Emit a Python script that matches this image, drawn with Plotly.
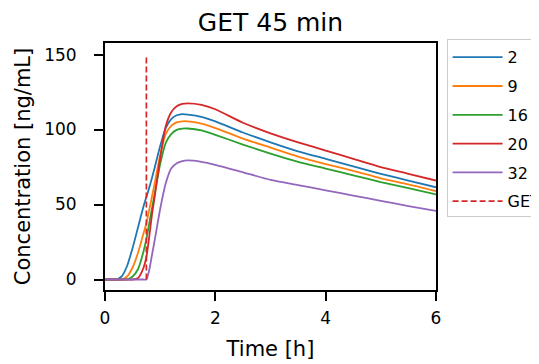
import plotly.graph_objects as go

# ---- data ----
time_h = [0, 0.2, 0.3, 0.4, 0.5, 0.6, 0.7, 0.75, 0.8, 0.85, 0.9, 1.0, 1.1, 1.2, 1.3, 1.4, 1.5,
          1.75, 2.0, 2.5, 3.0, 3.5, 4.0, 4.5, 5.0, 5.5, 6.0]

conc_2 = [0, 0, 2, 9, 21, 35, 49, 55, 61, 67.5, 74.5, 89, 101, 107, 109.5, 110.3, 110,
          108.5, 105.5, 98, 91.5, 85.5, 80.5, 75.5, 70.5, 66, 61.5]
conc_9 = [0, 0, 0, 2, 8, 18, 31, 37.5, 46, 55, 64, 83, 97, 102.5, 104.8, 105.5, 105.5,
          104, 101, 94, 88, 82, 77, 72.5, 67.5, 63.5, 59]
conc_16 = [0, 0, 0, 0, 2, 7, 19, 27, 37, 47, 57, 77, 91, 97, 99.8, 100.6, 100.7,
           99.5, 96.5, 90, 84, 78.5, 74, 69.5, 65, 61, 56.8]
conc_20 = [0, 0, 0, 0, 0, 1, 8, 15, 28, 43, 55, 81, 102, 111.5, 115.5, 117.1, 117.5,
           116.5, 113.5, 104.5, 97.5, 91.5, 86, 80.5, 75, 70.5, 66]
conc_32 = [0, 0, 0, 0, 0, 0, 0, 0, 6, 16, 26, 47, 64, 74, 77.5, 79, 79.4,
           78.5, 76.5, 71.5, 66.5, 63, 59.5, 56, 52.5, 49, 45.7]

series_names = ["2", "9", "16", "20", "32"]
series_values = [conc_2, conc_9, conc_16, conc_20, conc_32]
series_colors = ["#1f77b4", "#ff7f0e", "#2ca02c", "#d62728", "#9467bd"]

get_name = "GET"
get_time = [0.75, 0.75]
get_conc = [0, 150]

x_ticks = [0, 2, 4, 6]
y_ticks = [0, 50, 100, 150]

# ---- figure ----
fig = go.Figure()
for name, vals, col in zip(series_names, series_values, series_colors):
    fig.add_trace(go.Scatter(
        x=time_h, y=vals, mode="lines", name=name, legendgroup=name,
        line=dict(color=col, width=1.8, shape="spline", smoothing=0.6),
    ))
fig.add_trace(go.Scatter(
    x=get_time, y=get_conc, mode="lines", name=get_name, legendgroup="get",
    line=dict(color="#d62728", width=1.7, dash="6px,3px"),
))

axis_common = dict(
    showline=True, linecolor="black", linewidth=1.8, mirror=True,
    ticks="outside", ticklen=9, tickwidth=1.8, tickcolor="black",
    showgrid=False, zeroline=False,
    tickfont=dict(size=17, color="black"),
)

# the page body adds an 8px offset; the figure is sized so the plot lands in place
fig.update_layout(
    width=531, height=356,
    margin=dict(l=97, r=103, t=35, b=74, autoexpand=False),
    paper_bgcolor="white", plot_bgcolor="white",
    font=dict(family="DejaVu Sans", color="black"),
    title=dict(text="GET 45 min", x=0.5, xref="paper", xanchor="center",
               y=1 - 14.5 / 356, yref="container", yanchor="middle",
               font=dict(size=25, color="black")),
    showlegend=True,
    legend=dict(x=1.032, y=1.015, xanchor="left", yanchor="top",
                bgcolor="white", bordercolor="#cccccc", borderwidth=1,
                font=dict(size=16, color="black"), tracegroupgap=5,
                itemwidth=50),
    xaxis=dict(range=[0, 6], tickvals=x_ticks, ticklabelstandoff=3,
               title=dict(text="Time [h]", font=dict(size=21), standoff=14),
               **axis_common),
    yaxis=dict(range=[-7, 157.7], tickvals=y_ticks, ticklabelstandoff=14,
               title=dict(text="Concentration [ng/mL]", font=dict(size=21), standoff=8),
               **axis_common),
)

fig.write_html("out.html")
